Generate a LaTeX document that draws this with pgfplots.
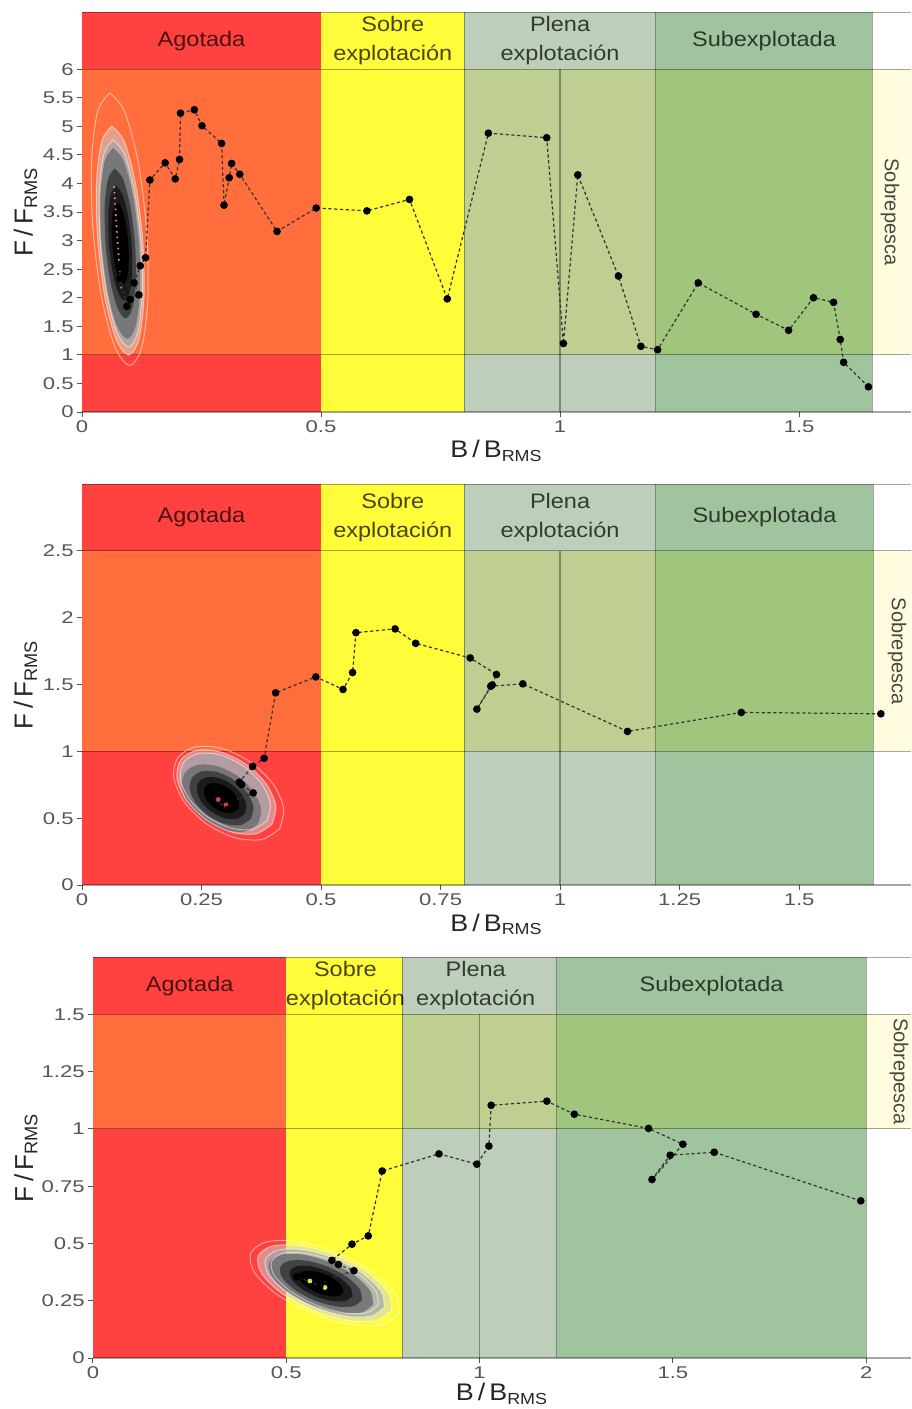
\documentclass[border=0pt]{standalone}
\usepackage{fontspec}
\setmainfont{Liberation Sans}
\newfontfamily\widefont{Liberation Sans}[FakeStretch=1.12]
\newfontfamily\tickfont{Liberation Sans}[FakeStretch=1.3]
\usepackage{pgfplots}
\pgfplotsset{compat=1.18}
\definecolor{cRed}{RGB}{255,66,64}
\definecolor{cOrange}{RGB}{255,110,60}
\definecolor{cYellow}{RGB}{255,252,58}
\definecolor{cPlenaA}{RGB}{189,207,186}
\definecolor{cPlenaB}{RGB}{191,207,146}
\definecolor{cSubA}{RGB}{160,197,158}
\definecolor{cSubB}{RGB}{160,197,124}
\definecolor{cSobre}{RGB}{255,253,222}
\definecolor{tickgray}{RGB}{85,85,85}
\definecolor{bZ}{RGB}{205,210,215}
\definecolor{bA}{RGB}{160,166,172}
\definecolor{bB}{RGB}{110,112,116}
\definecolor{bC}{RGB}{60,60,63}
\definecolor{bD}{RGB}{25,25,25}
\definecolor{bE}{RGB}{0,0,0}
\tikzset{
  striplab/.style={font=\widefont\fontsize{10.5}{14.5}\selectfont, text=black, text opacity=0.72, align=center},
  sobrelab/.style={font=\fontsize{10}{12}\selectfont, text=black, text opacity=0.72, rotate=-90},
}
\pgfplotsset{
  panel/.style={
    scale only axis, anchor=south west,
    axis line style={draw=none},
    tick align=outside, major tick length=2.5pt,
    tick style={draw=tickgray, line width=0.5pt},
    xtick pos=left, ytick pos=left,
    ticklabel style={font=\tickfont\fontsize{8.5}{10}\selectfont, text=tickgray},
    yticklabel style={inner xsep=1.5pt},
    xticklabel style={inner ysep=1.5pt},
    /pgf/number format/assume math mode=true,
    xlabel={B\,/\,B\textsubscript{RMS}},
    ylabel={F\,/\,F\textsubscript{RMS}},
    xlabel style={font=\widefont\fontsize{12}{14}\selectfont, text=black!85, anchor=center},
    ylabel style={font=\fontsize{13}{15}\selectfont, text=black!85, anchor=center},
    xmin=0, ymin=0,
  },
  rect/.style={draw=none, forget plot, mark=none},
  bline/.style={draw=black, draw opacity=0.35, line width=0.6pt, forget plot, mark=none},
  traj/.style={draw=black!80, line width=0.6pt, dash pattern=on 1.6pt off 1.3pt, mark=*, mark size=1.6pt, mark options={solid, fill=black, draw=black}},
  cont/.style={draw=white, draw opacity=0.5, line width=0.5pt, smooth, mark=none, forget plot},
  blob/.style={draw=none, smooth, mark=none, forget plot},
}
\begin{document}
\begin{tikzpicture}
\useasboundingbox (0,0) rectangle (455.5pt,-704.5pt);
%%%%%%%%%%%%%%%%%%%%%%%% PANEL 1
\begin{axis}[panel, at={(41pt,-206pt)}, width=414.5pt, height=200pt,
  xmax=1.734, ymax=7,
  xtick={0,0.5,1,1.5}, ytick={0,0.5,1,1.5,2,2.5,3,3.5,4,4.5,5,5.5,6},
  xlabel style={at={(axis description cs:0.5,-0.0975)}},
  ylabel style={at={(axis description cs:-0.068,0.5)}}]
\addplot[rect, fill=cRed] coordinates {(0,0) (0.5,0) (0.5,1) (0,1)};
\addplot[rect, fill=cOrange] coordinates {(0,1) (0.5,1) (0.5,6) (0,6)};
\addplot[rect, fill=cRed] coordinates {(0,6) (0.5,6) (0.5,7) (0,7)};
\addplot[rect, fill=cYellow] coordinates {(0.5,0) (0.8,0) (0.8,7) (0.5,7)};
\addplot[rect, fill=cPlenaA] coordinates {(0.8,0) (1.2,0) (1.2,1) (0.8,1)};
\addplot[rect, fill=cPlenaB] coordinates {(0.8,1) (1.2,1) (1.2,6) (0.8,6)};
\addplot[rect, fill=cPlenaA] coordinates {(0.8,6) (1.2,6) (1.2,7) (0.8,7)};
\addplot[rect, fill=cSubA] coordinates {(1.2,0) (1.653,0) (1.653,1) (1.2,1)};
\addplot[rect, fill=cSubB] coordinates {(1.2,1) (1.653,1) (1.653,6) (1.2,6)};
\addplot[rect, fill=cSubA] coordinates {(1.2,6) (1.653,6) (1.653,7) (1.2,7)};
\addplot[rect, fill=cSobre] coordinates {(1.653,1) (1.734,1) (1.734,6) (1.653,6)};
\addplot[bline] coordinates {(0,0) (1.734,0)};
\addplot[bline] coordinates {(0,1) (1.734,1)};
\addplot[bline] coordinates {(0,6) (1.734,6)};
\addplot[bline] coordinates {(0,7) (1.734,7)};
\addplot[bline] coordinates {(0.8,0) (0.8,7)};
\addplot[bline] coordinates {(1.2,0) (1.2,7)};
\addplot[bline] coordinates {(1.653,0) (1.653,7)};
\addplot[bline] coordinates {(1,0) (1,6)};
% density
\addplot[blob, fill=bZ, fill opacity=0.5] coordinates {(0.0624,5.003) (0.0882,4.735) (0.1119,4.002) (0.127,3.0) (0.1296,1.998) (0.1188,1.265) (0.0976,0.997) (0.0718,1.265) (0.0481,1.998) (0.033,3.0) (0.0304,4.002) (0.0412,4.735) (0.0624,5.003)};
\addplot[blob, fill=bA, fill opacity=0.7] coordinates {(0.065,4.763) (0.0884,4.519) (0.1099,3.857) (0.1236,2.95) (0.1258,2.043) (0.1161,1.381) (0.097,1.137) (0.0736,1.381) (0.0521,2.043) (0.0384,2.95) (0.0362,3.857) (0.0459,4.519) (0.065,4.763)};
\addplot[blob, fill=bB, fill opacity=0.85] coordinates {(0.0653,4.62) (0.0869,4.396) (0.1066,3.785) (0.1192,2.95) (0.1213,2.115) (0.1123,1.504) (0.0947,1.28) (0.0731,1.504) (0.0534,2.115) (0.0408,2.95) (0.0387,3.785) (0.0477,4.396) (0.0653,4.62)};
\addplot[blob, fill=bC, fill opacity=0.9] coordinates {(0.0684,4.262) (0.0854,4.086) (0.1009,3.606) (0.1108,2.95) (0.1125,2.294) (0.1054,1.814) (0.0916,1.638) (0.0746,1.814) (0.0591,2.294) (0.0492,2.95) (0.0475,3.606) (0.0546,4.086) (0.0684,4.262)};
\addplot[blob, fill=bD, fill opacity=0.95] coordinates {(0.0712,3.952) (0.0841,3.817) (0.096,3.451) (0.1035,2.95) (0.1048,2.449) (0.0994,2.083) (0.0888,1.948) (0.0759,2.083) (0.064,2.449) (0.0565,2.95) (0.0552,3.451) (0.0606,3.817) (0.0712,3.952)};
\addplot[blob, fill=bE] coordinates {(0.0737,3.666) (0.0829,3.57) (0.0914,3.308) (0.0968,2.95) (0.0977,2.592) (0.0939,2.33) (0.0863,2.234) (0.0771,2.33) (0.0686,2.592) (0.0632,2.95) (0.0623,3.308) (0.0661,3.57) (0.0737,3.666)};
\addplot[cont] coordinates {(0.058,5.585) (0.0888,5.265) (0.117,4.393) (0.135,3.2) (0.138,2.007) (0.1252,1.135) (0.100,0.815) (0.0692,1.135) (0.041,2.007) (0.023,3.2) (0.020,4.393) (0.0328,5.265) (0.058,5.585)};
\addplot[cont] coordinates {(0.0624,5.003) (0.0882,4.735) (0.1119,4.002) (0.127,3.0) (0.1296,1.998) (0.1188,1.265) (0.0976,0.997) (0.0718,1.265) (0.0481,1.998) (0.033,3.0) (0.0304,4.002) (0.0412,4.735) (0.0624,5.003)};
\addplot[cont] coordinates {(0.065,4.763) (0.0884,4.519) (0.1099,3.857) (0.1236,2.95) (0.1258,2.043) (0.1161,1.381) (0.097,1.137) (0.0736,1.381) (0.0521,2.043) (0.0384,2.95) (0.0362,3.857) (0.0459,4.519) (0.065,4.763)};
\addplot[draw={rgb,255:red,255;green,150;blue,130}, dotted, line width=0.8pt, mark=none, forget plot] coordinates {(0.067,3.95) (0.071,3.4) (0.076,2.8) (0.082,2.15)};
% trajectory
\addplot[traj] coordinates {(1.645,0.44) (1.593,0.87) (1.586,1.27) (1.572,1.92) (1.530,2.00) (1.478,1.43) (1.410,1.71) (1.289,2.26) (1.204,1.09) (1.169,1.15) (1.122,2.38) (1.037,4.15) (1.007,1.20) (0.972,4.80) (0.850,4.88) (0.764,1.98) (0.685,3.72) (0.596,3.52) (0.490,3.57) (0.408,3.16) (0.330,4.16) (0.313,4.35) (0.308,4.10) (0.297,3.62) (0.292,4.70) (0.251,5.01) (0.235,5.29) (0.206,5.23) (0.204,4.42) (0.195,4.08) (0.174,4.36) (0.142,4.06) (0.133,2.70) (0.122,2.56) (0.109,2.26) (0.119,2.05) (0.101,1.97) (0.094,1.85) (0.080,2.33) (0.078,2.53)};
\node[striplab] at (axis cs:0.25,6.5) {Agotada};
\node[striplab] at (axis cs:0.65,6.5) {Sobre\\explotación};
\node[striplab] at (axis cs:1.0,6.5) {Plena\\explotación};
\node[striplab] at (axis cs:1.4265,6.5) {Subexplotada};
\node[sobrelab] at (axis cs:1.69,3.5) {Sobrepesca};
\end{axis}
%%%%%%%%%%%%%%%%%%%%%%%% PANEL 2
\begin{axis}[panel, at={(41pt,-442.5pt)}, width=414.5pt, height=200.5pt,
  xmax=1.734, ymax=3,
  xtick={0,0.25,0.5,0.75,1,1.25,1.5}, ytick={0,0.5,1,1.5,2,2.5},
  xlabel style={at={(axis description cs:0.5,-0.098)}},
  ylabel style={at={(axis description cs:-0.068,0.5)}}]
\addplot[rect, fill=cRed] coordinates {(0,0) (0.5,0) (0.5,1) (0,1)};
\addplot[rect, fill=cOrange] coordinates {(0,1) (0.5,1) (0.5,2.5) (0,2.5)};
\addplot[rect, fill=cRed] coordinates {(0,2.5) (0.5,2.5) (0.5,3) (0,3)};
\addplot[rect, fill=cYellow] coordinates {(0.5,0) (0.8,0) (0.8,3) (0.5,3)};
\addplot[rect, fill=cPlenaA] coordinates {(0.8,0) (1.2,0) (1.2,1) (0.8,1)};
\addplot[rect, fill=cPlenaB] coordinates {(0.8,1) (1.2,1) (1.2,2.5) (0.8,2.5)};
\addplot[rect, fill=cPlenaA] coordinates {(0.8,2.5) (1.2,2.5) (1.2,3) (0.8,3)};
\addplot[rect, fill=cSubA] coordinates {(1.2,0) (1.655,0) (1.655,1) (1.2,1)};
\addplot[rect, fill=cSubB] coordinates {(1.2,1) (1.655,1) (1.655,2.5) (1.2,2.5)};
\addplot[rect, fill=cSubA] coordinates {(1.2,2.5) (1.655,2.5) (1.655,3) (1.2,3)};
\addplot[rect, fill=cSobre] coordinates {(1.655,1) (1.734,1) (1.734,2.5) (1.655,2.5)};
\addplot[bline] coordinates {(0,0) (1.734,0)};
\addplot[bline] coordinates {(0,1) (1.734,1)};
\addplot[bline] coordinates {(0,2.5) (1.734,2.5)};
\addplot[bline] coordinates {(0,3) (1.734,3)};
\addplot[bline] coordinates {(0.8,0) (0.8,3)};
\addplot[bline] coordinates {(1.2,0) (1.2,3)};
\addplot[bline] coordinates {(1.655,0) (1.655,3)};
\addplot[bline] coordinates {(1,0) (1,2.5)};
\addplot[blob, fill=bZ, fill opacity=0.5] coordinates {(0.3977,0.4559) (0.3644,0.3834) (0.3143,0.3945) (0.261,0.4861) (0.2186,0.6337) (0.1986,0.7976) (0.2063,0.9341) (0.2396,1.0066) (0.2897,0.9955) (0.343,0.9039) (0.3854,0.7563) (0.4054,0.5924) (0.3977,0.4559)};
\addplot[blob, fill=bA, fill opacity=0.7] coordinates {(0.3872,0.4821) (0.3568,0.4161) (0.3112,0.4262) (0.2626,0.5097) (0.224,0.6442) (0.2058,0.7935) (0.2128,0.9179) (0.2432,0.9839) (0.2888,0.9738) (0.3374,0.8903) (0.376,0.7558) (0.3942,0.6065) (0.3872,0.4821)};
\addplot[blob, fill=bB, fill opacity=0.85] coordinates {(0.3685,0.4587) (0.3419,0.4007) (0.3019,0.4096) (0.2592,0.4829) (0.2253,0.601) (0.2093,0.7321) (0.2155,0.8413) (0.2421,0.8993) (0.2821,0.8904) (0.3248,0.8171) (0.3587,0.699) (0.3747,0.5679) (0.3685,0.4587)};
\addplot[blob, fill=bC, fill opacity=0.9] coordinates {(0.3537,0.4959) (0.3322,0.4492) (0.2999,0.4563) (0.2656,0.5154) (0.2382,0.6105) (0.2254,0.7161) (0.2303,0.8041) (0.2518,0.8508) (0.2841,0.8437) (0.3184,0.7846) (0.3458,0.6895) (0.3586,0.5839) (0.3537,0.4959)};
\addplot[blob, fill=bD, fill opacity=0.95] coordinates {(0.3398,0.5304) (0.3232,0.4942) (0.2982,0.4997) (0.2715,0.5456) (0.2503,0.6194) (0.2403,0.7013) (0.2442,0.7696) (0.2608,0.8058) (0.2858,0.8003) (0.3125,0.7544) (0.3337,0.6806) (0.3437,0.5987) (0.3398,0.5304)};
\addplot[blob, fill=bE] coordinates {(0.326,0.565) (0.3142,0.5392) (0.2964,0.5432) (0.2774,0.5757) (0.2623,0.6282) (0.2552,0.6865) (0.258,0.735) (0.2698,0.7608) (0.2876,0.7568) (0.3066,0.7243) (0.3217,0.6718) (0.3288,0.6135) (0.326,0.565)};
\addplot[cont] coordinates {(0.4133,0.4213) (0.3763,0.3408) (0.3207,0.3531) (0.2614,0.4549) (0.2143,0.6189) (0.1921,0.801) (0.2007,0.9527) (0.2377,1.0332) (0.2933,1.0209) (0.3526,0.9191) (0.3997,0.7551) (0.4219,0.573) (0.4133,0.4213)};
\addplot[cont] coordinates {(0.3977,0.4559) (0.3644,0.3834) (0.3143,0.3945) (0.261,0.4861) (0.2186,0.6337) (0.1986,0.7976) (0.2063,0.9341) (0.2396,1.0066) (0.2897,0.9955) (0.343,0.9039) (0.3854,0.7563) (0.4054,0.5924) (0.3977,0.4559)};
\addplot[cont] coordinates {(0.3872,0.4821) (0.3568,0.4161) (0.3112,0.4262) (0.2626,0.5097) (0.224,0.6442) (0.2058,0.7935) (0.2128,0.9179) (0.2432,0.9839) (0.2888,0.9738) (0.3374,0.8903) (0.376,0.7558) (0.3942,0.6065) (0.3872,0.4821)};
\addplot[only marks, mark=*, mark size=1pt, color={rgb,255:red,220;green,60;blue,60}, forget plot] coordinates {(0.285,0.64) (0.301,0.60)};
\addplot[traj] coordinates {(1.671,1.281) (1.379,1.291) (1.141,1.149) (0.922,1.505) (0.855,1.487) (0.826,1.316) (0.858,1.497) (0.867,1.575) (0.812,1.699) (0.698,1.808) (0.655,1.916) (0.573,1.888) (0.566,1.59) (0.546,1.463) (0.489,1.557) (0.405,1.438) (0.381,0.948) (0.357,0.888) (0.329,0.769) (0.334,0.751) (0.358,0.689) (0.317,0.632) (0.305,0.565) (0.271,0.662)};
\node[striplab] at (axis cs:0.25,2.75) {Agotada};
\node[striplab] at (axis cs:0.65,2.75) {Sobre\\explotación};
\node[striplab] at (axis cs:1.0,2.75) {Plena\\explotación};
\node[striplab] at (axis cs:1.4275,2.75) {Subexplotada};
\node[sobrelab] at (axis cs:1.705,1.75) {Sobrepesca};
\end{axis}
%%%%%%%%%%%%%%%%%%%%%%%% PANEL 3
\begin{axis}[panel, at={(46.5pt,-679pt)}, width=409pt, height=200.5pt,
  xmax=2.116, ymax=1.75,
  xtick={0,0.5,1,1.5,2}, ytick={0,0.25,0.5,0.75,1,1.25,1.5},
  xlabel style={at={(axis description cs:0.5,-0.09)}},
  ylabel style={at={(axis description cs:-0.082,0.5)}}]
\addplot[rect, fill=cRed] coordinates {(0,0) (0.5,0) (0.5,1) (0,1)};
\addplot[rect, fill=cOrange] coordinates {(0,1) (0.5,1) (0.5,1.5) (0,1.5)};
\addplot[rect, fill=cRed] coordinates {(0,1.5) (0.5,1.5) (0.5,1.75) (0,1.75)};
\addplot[rect, fill=cYellow] coordinates {(0.5,0) (0.8,0) (0.8,1.75) (0.5,1.75)};
\addplot[rect, fill=cPlenaA] coordinates {(0.8,0) (1.2,0) (1.2,1) (0.8,1)};
\addplot[rect, fill=cPlenaB] coordinates {(0.8,1) (1.2,1) (1.2,1.5) (0.8,1.5)};
\addplot[rect, fill=cPlenaA] coordinates {(0.8,1.5) (1.2,1.5) (1.2,1.75) (0.8,1.75)};
\addplot[rect, fill=cSubA] coordinates {(1.2,0) (2,0) (2,1) (1.2,1)};
\addplot[rect, fill=cSubB] coordinates {(1.2,1) (2,1) (2,1.5) (1.2,1.5)};
\addplot[rect, fill=cSubA] coordinates {(1.2,1.5) (2,1.5) (2,1.75) (1.2,1.75)};
\addplot[rect, fill=cSobre] coordinates {(2,1) (2.116,1) (2.116,1.5) (2,1.5)};
\addplot[bline] coordinates {(0,0) (2.116,0)};
\addplot[bline] coordinates {(0,1) (2.116,1)};
\addplot[bline] coordinates {(0,1.5) (2.116,1.5)};
\addplot[bline] coordinates {(0,1.75) (2.116,1.75)};
\addplot[bline] coordinates {(0.8,0) (0.8,1.75)};
\addplot[bline] coordinates {(1.2,0) (1.2,1.75)};
\addplot[bline] coordinates {(2,0) (2,1.75)};
\addplot[bline] coordinates {(1,0) (1,1.5)};
\addplot[blob, fill=bZ, fill opacity=0.5] coordinates {(0.7728,0.2091) (0.7353,0.1649) (0.6615,0.1641) (0.5712,0.2069) (0.4887,0.282) (0.4359,0.369) (0.4272,0.4449) (0.4647,0.4891) (0.5385,0.4899) (0.6288,0.4471) (0.7113,0.372) (0.7641,0.285) (0.7728,0.2091)};
\addplot[blob, fill=bA, fill opacity=0.7] coordinates {(0.7536,0.2222) (0.7202,0.1829) (0.6546,0.1822) (0.5744,0.2203) (0.501,0.287) (0.4542,0.3644) (0.4464,0.4318) (0.4798,0.4711) (0.5454,0.4718) (0.6256,0.4337) (0.699,0.367) (0.7458,0.2896) (0.7536,0.2222)};
\addplot[blob, fill=bB, fill opacity=0.85] coordinates {(0.7244,0.2333) (0.6952,0.1989) (0.6378,0.1983) (0.5676,0.2316) (0.5034,0.29) (0.4624,0.3577) (0.4556,0.4167) (0.4848,0.4511) (0.5422,0.4517) (0.6124,0.4184) (0.6766,0.36) (0.7176,0.2923) (0.7244,0.2333)};
\addplot[blob, fill=bC, fill opacity=0.9] coordinates {(0.6956,0.2529) (0.6727,0.2259) (0.6276,0.2254) (0.5724,0.2516) (0.522,0.2975) (0.4897,0.3507) (0.4844,0.3971) (0.5073,0.4241) (0.5524,0.4246) (0.6076,0.3984) (0.658,0.3525) (0.6903,0.2993) (0.6956,0.2529)};
\addplot[blob, fill=bD, fill opacity=0.95] coordinates {(0.6706,0.27) (0.6531,0.2494) (0.6187,0.249) (0.5766,0.269) (0.538,0.304) (0.5134,0.3446) (0.5094,0.38) (0.5269,0.4006) (0.5613,0.401) (0.6034,0.381) (0.642,0.346) (0.6666,0.3054) (0.6706,0.27)};
\addplot[blob, fill=bE] coordinates {(0.6476,0.2857) (0.6351,0.271) (0.6105,0.2707) (0.5804,0.285) (0.5529,0.31) (0.5353,0.339) (0.5324,0.3643) (0.5449,0.379) (0.5695,0.3793) (0.5996,0.365) (0.6271,0.34) (0.6447,0.311) (0.6476,0.2857)};
\addplot[cont] coordinates {(0.792,0.196) (0.7503,0.1469) (0.6683,0.146) (0.568,0.1936) (0.4763,0.277) (0.4177,0.3737) (0.408,0.458) (0.4497,0.5071) (0.5317,0.508) (0.632,0.4604) (0.7237,0.377) (0.7823,0.2803) (0.792,0.196)};
\addplot[cont] coordinates {(0.7728,0.2091) (0.7353,0.1649) (0.6615,0.1641) (0.5712,0.2069) (0.4887,0.282) (0.4359,0.369) (0.4272,0.4449) (0.4647,0.4891) (0.5385,0.4899) (0.6288,0.4471) (0.7113,0.372) (0.7641,0.285) (0.7728,0.2091)};
\addplot[cont] coordinates {(0.7536,0.2222) (0.7202,0.1829) (0.6546,0.1822) (0.5744,0.2203) (0.501,0.287) (0.4542,0.3644) (0.4464,0.4318) (0.4798,0.4711) (0.5454,0.4718) (0.6256,0.4337) (0.699,0.367) (0.7458,0.2896) (0.7536,0.2222)};
\addplot[cont] coordinates {(0.7382,0.2327) (0.7082,0.1973) (0.6492,0.1967) (0.577,0.231) (0.5109,0.291) (0.4687,0.3606) (0.4618,0.4213) (0.4918,0.4567) (0.5508,0.4573) (0.623,0.423) (0.6891,0.363) (0.7313,0.2934) (0.7382,0.2327)};
\addplot[only marks, mark=*, mark size=1pt, color={rgb,255:red,230;green,220;blue,60}, forget plot] coordinates {(0.561,0.336) (0.600,0.308)};
\addplot[traj] coordinates {(1.986,0.686) (1.607,0.898) (1.493,0.885) (1.446,0.779) (1.526,0.933) (1.437,1.002) (1.245,1.064) (1.174,1.121) (1.030,1.103) (1.024,0.925) (0.993,0.846) (0.895,0.891) (0.748,0.816) (0.712,0.533) (0.670,0.497) (0.618,0.426) (0.635,0.408) (0.675,0.381) (0.609,0.344) (0.587,0.315) (0.527,0.355)};
\node[striplab] at (axis cs:0.25,1.625) {Agotada};
\node[striplab] at (axis cs:0.653,1.625) {Sobre\\explotación};
\node[striplab] at (axis cs:0.99,1.625) {Plena\\explotación};
\node[striplab] at (axis cs:1.6,1.625) {Subexplotada};
\node[sobrelab] at (axis cs:2.085,1.25) {Sobrepesca};
\end{axis}
\end{tikzpicture}
\end{document}
